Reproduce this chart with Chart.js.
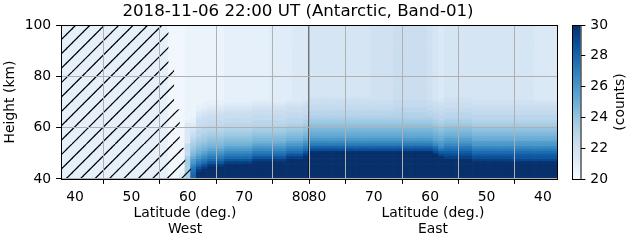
<!DOCTYPE html>
<html>
<head>
<meta charset="utf-8">
<script src="https://cdn.jsdelivr.net/npm/chart.js@4.4.1/dist/chart.umd.min.js"></script>
<style>
  html, body { margin: 0; padding: 0; background: #fff; }
  #wrap { position: relative; width: 631px; height: 243px; }
  #main { position: absolute; left: 0; top: 0; }
  #cbar { position: absolute; left: 560px; top: 0; }
</style>
</head>
<body>
<div id="wrap">
  <canvas id="main" width="596" height="243"></canvas>
  <canvas id="cbar" width="71" height="243"></canvas>
</div>

<script>
  // height bins (km), bottom edge of each 1 km row
  const heights = [
    40, 41, 42, 43, 44, 45, 46, 47, 48, 49, 50, 51, 52, 53, 54, 55, 56, 57, 58, 59,
    60, 61, 62, 63, 64, 65, 66, 67, 68, 69, 70, 71, 72, 73, 74, 75, 76, 77, 78, 79,
    80, 81, 82, 83, 84, 85, 86, 87, 88, 89, 90, 91, 92, 93, 94, 95, 96, 97, 98, 99
  ];

  // latitude of each column, in drawing order
  const westLat = [38, 39, 40, 41, 42, 43, 44, 45, 46, 47, 48, 49, 50, 51, 52, 53, 54, 55, 56, 57, 58, 59,
    60, 61, 62, 63, 64, 65, 66, 67, 68, 69, 70, 71, 72, 73, 74, 75, 76, 77, 78, 79, 80, 81];
  const eastLat = [81, 80, 79, 78, 77, 76, 75, 74, 73, 72, 71, 70, 69, 68, 67, 66, 65, 64, 63, 62, 61, 60,
    59, 58, 57, 56, 55, 54, 53, 52, 51, 50, 49, 48, 47, 46, 45, 44, 43, 42, 41, 40, 39, 38];

  // counts per column, one character per 1 km row from 40 km up;
  // the last character holds to 100 km. '0' = 20 counts ... 'z' = 30 counts
  const countCode = '0123456789abcdefghijklmnopqrstuvwxyz';
  const westCounts = [
    '3', '3', '3', '3', '3', '3', '3', '3', '3', '3',
    '3', '3', '3', '3', '3', '3', '3', '3', '3',
    '1', '1', '54321',
    'ccccccccc999995555555532',
    'ssrqpnlkigfedcba987654332',
    'zzzxurpnljhgfedcbaa99887654332',
    'zzzzxurpnljhgfedcbaa99887654332',
    'zzzzzxurpnljhgfedcbaa99887654332',
    'zzzzzxurpnljhgfedcbaa99887654332',
    'zzzzzxurpnljhgfedcbaa99887654332',
    'zzzzzzxurpnljhgfedcbaa998876543',
    'zzzzzzxurpnljhgfedcbaa998876543',
    'zzzzzzxurpnljhgfedcbaa998876543',
    'zzzzzzxurpnljhgfedcbaa998876543',
    'zzzzzzxurpnljhgfedcbaa998876543',
    'zzzzzzzxurpnljhgfedcbaa998876543',
    'zzzzzzzxurpnljhgfedcbaa998876543',
    'zzzzzzzxurpnljhgfedcbaa998876543',
    'zzzzzzzxurpnljhgfedcbaa99887654',
    'zzzzzzzxurpnljhgfedcbaa99887654',
    'zzzzzzzxurpnljhgfedcbaa99887654',
    'zzzzzzzzxurpnljhgfedcbaa99887654',
    'zzzzzzzzxurpnljhgfedcbaa9988765',
    'zzzzzzzzxurpnljhgfedcbaa9988765',
    'zzzzzzzzzxurpnljhgfedcbaa9988765'
  ];
  const eastCounts = [
    'zzzzzzzzzzzvspnljihgfedcbaa998876',
    'zzzzzzzzzzzvspnljihgfedcbaa998876',
    'zzzzzzzzzzzvspnljihgfedcbaa998876',
    'zzzzzzzzzzzvspnljihgfedcbaa998876',
    'zzzzzzzzzzzvspnljihgfedcbaa998876',
    'zzzzzzzzzzzvspnljihgfedcbaa998876',
    'zzzzzzzzzzzvspnljihgfedcbaa998876',
    'zzzzzzzzzzzvspnljihgfedcbaa998876',
    'zzzzzzzzzzzvspnljihgfedcbaa998876',
    'zzzzzzzzzzzvspnljihgfedcbaa998876',
    'zzzzzzzzzzzvspnljihgfedcbaa998876',
    'zzzzzzzzzzzvspnljihgfedcbaa99887',
    'zzzzzzzzzzzvspnljihgfedcbaa99887',
    'zzzzzzzzzzzvspnljihgfedcbaa99887',
    'zzzzzzzzzzzvspnljihgfedcbaa99887',
    'zzzzzzzzzzzvspnljihgfedcbbaa9998',
    'zzzzzzzzzzzvspnljihgfedcbbaa9998',
    'zzzzzzzzzzzvspnljihgfedcbbaa9998',
    'zzzzzzzzzzzvspnljihgfedcbbaa9998',
    'zzzzzzzzzzzvspnljihgfedcbbaa9998',
    'zzzzzzzzzzzvspnljihgfedcbbaa9998',
    'zzzzzzzzzzzvspnljihgfedcbaa99887',
    'zzzzzzzzzzwtqnljihgfedcbaa998876',
    'zzzzzzzzzwtqnlkihgfedcbaa9988765',
    'zzzzzzzzxvtrpnlkihgfedcbaa9988776',
    'zzzzzzzzxvtrpnlkihgfedcbaa9988776',
    'zzzzzzzzxvtrpnlkihgfedcbaa9988776',
    'zzzzzzzzxvtrpnlkihgfedcbaa9988776',
    'zzzzzzzzxvtrpnlkihgfedcbaa9988776',
    'zzzzzzzxvtrpnlkihgfedcbaa9988776',
    'zzzzzzzxvtrpnlkihgfedcbaa9988776',
    'zzzzzzzxvtrpnlkihgfedcbaa9988776',
    'zzzzzzzxvtrpnlkihgfedcbaa9988776',
    'zzzzzzzxvtrpnlkihgfedcbaa9988776',
    'zzzzzzzxvtrpnlkihgfedcbaa9988776',
    'zzzzzzzxvtrpnlkihgfedcbaa9988776',
    'zzzzzzzwutrpnlkihgfedcbaa9988776',
    'zzzzzzzwutrpnlkihgfedcbaa9988776',
    'zzzzzzzwutrpnlkihgfedcbaa9988776',
    'zzzzzzzwutrpnlkihgfedcbaa9988776',
    'zzzzzzzwutrpnlkihgfedcbaa9988765',
    'zzzzzzzwutrpnlkihgfedcbaa9988765',
    'zzzzzzzwutrpnlkihgfedcbaa9988765',
    'zzzzzzzwutrpnlkihgfedcbaa9988765'
  ];

  // hatched (no data) area on the west side: column latitude and top height
  const hatchLat = [38, 39, 40, 41, 42, 43, 44, 45, 46, 47, 48, 49, 50, 51, 52, 53, 54, 55, 56, 57, 58, 59, 60];
  const hatchTop = [100, 100, 100, 100, 100, 100, 100, 100, 100, 100, 100, 100, 100, 100, 100, 100, 100, 100, 100, 83, 67, 52, 44];

  const westTicks = [40, 50, 60, 70, 80];
  const eastTicks = [80, 70, 60, 50, 40];
  const sideNames = ['West', 'East'];
  const cbarTicks = [20, 22, 24, 26, 28, 30];

  // matplotlib "Blues"
  const blues = [[247, 251, 255], [222, 235, 247], [198, 219, 239], [158, 202, 225], [107, 174, 214],
    [66, 146, 198], [33, 113, 181], [8, 81, 156], [8, 48, 107]];
  const vmin = 20, vmax = 30;

  function blueColor(v) {
    let t = Math.min(Math.max((v - vmin) / (vmax - vmin), 0), 1) * 8;
    const i = Math.min(Math.floor(t), 7);
    const f = t - i;
    const c = blues[i].map((a, k) => Math.round(a + (blues[i + 1][k] - a) * f));
    return `rgb(${c[0]}, ${c[1]}, ${c[2]})`;
  }

  // x axis runs 37.5 -> 81.5 (west) then 81.5 -> 37.5 (east), 88 units
  const westPos = (lat) => lat - 37.5;
  const eastPos = (lat) => 88 - (lat - 37.5);

  const heatCells = [];
  const heatColors = [];
  function addColumn(pos, code) {
    const full = code.padEnd(heights.length, code[code.length - 1]);
    heights.forEach((h, r) => {
      const v = vmin + countCode.indexOf(full[r]) * (vmax - vmin) / 35;
      heatCells.push({ x: pos, y: [h, h + 1] });
      heatColors.push(blueColor(v));
    });
  }
  westLat.forEach((lat, i) => addColumn(westPos(lat), westCounts[i]));
  eastLat.forEach((lat, i) => addColumn(eastPos(lat), eastCounts[i]));

  const hatchCells = hatchLat.map((lat, i) => ({ x: westPos(lat), y: [40, hatchTop[i]] }));

  const xTickPos = westTicks.map(westPos).concat(eastTicks.map(eastPos));
  const xTickLabels = westTicks.concat(eastTicks).map(String);

  function makeHatch() {
    const c = document.createElement("canvas");
    c.width = 72;
    c.height = 72;
    const g = c.getContext("2d");
    g.strokeStyle = "#000";
    g.lineWidth = 1.2;
    for (let k = -6; k <= 12; k++) {
      const x0 = k * 14.4;
      g.beginPath();
      g.moveTo(x0, 72);
      g.lineTo(x0 + 72, 0);
      g.stroke();
    }
    return g.createPattern(c, "repeat");
  }

  Chart.defaults.font.family = "'DejaVu Sans', sans-serif";
  Chart.defaults.font.size = 13.9;
  Chart.defaults.color = "#000";

  const frameAndLabels = {
    id: "frameAndLabels",
    afterDraw(chart) {
      const { ctx, chartArea: a, scales } = chart;
      ctx.save();
      ctx.strokeStyle = "#000";
      ctx.lineWidth = 1;
      ctx.strokeRect(a.left + 0.5, a.top + 0.5, a.width, a.height);
      ctx.fillStyle = "#000";
      ctx.font = "13.9px 'DejaVu Sans'";
      ctx.textAlign = "center";
      ctx.textBaseline = "middle";
      sideNames.forEach((name, i) => {
        const px = scales.x.getPixelForValue(22 + i * 44);
        ctx.fillText("Latitude (deg.)", px, a.bottom + 34);
        ctx.fillText(name, px, a.bottom + 50.5);
      });
      ctx.restore();
    },
  };

  new Chart(document.getElementById("main"), {
    type: "bar",
    data: {
      datasets: [
        {
          type: "line",
          data: [{ x: 44, y: 40 }, { x: 44, y: 100 }],
          borderColor: "#000",
          borderWidth: 1,
          pointRadius: 0,
          order: 0,
        },
        {
          data: hatchCells,
          backgroundColor: makeHatch(),
          borderWidth: 0,
          grouped: false,
          barPercentage: 1,
          categoryPercentage: 1,
          order: 1,
        },
        {
          data: heatCells,
          backgroundColor: heatColors,
          borderWidth: 0,
          grouped: false,
          barPercentage: 1,
          categoryPercentage: 1,
          order: 2,
        },
      ],
    },
    options: {
      responsive: false,
      animation: false,
      events: [],
      layout: { padding: 0 },
      plugins: {
        legend: { display: false },
        tooltip: { enabled: false },
        title: {
          display: true,
          text: "2018-11-06 22:00 UT (Antarctic, Band-01)",
          color: "#000",
          font: { size: 16.67, weight: "normal" },
          padding: { top: 1.5, bottom: 3.5 },
        },
      },
      scales: {
        x: {
          type: "linear",
          min: 0,
          max: 88,
          offset: false,
          afterBuildTicks: (s) => {
            s.ticks = xTickPos.map((v) => ({ value: v }));
          },
          ticks: {
            autoSkip: false,
            maxRotation: 0,
            minRotation: 0,
            padding: 4.9,
            callback: (v, i) => xTickLabels[i],
          },
          grid: { z: 1, color: "#b0b0b0", lineWidth: 1, tickColor: "#000", tickLength: 4.9 },
          border: { display: false },
          afterFit: (s) => {
            s.height = 64;
          },
        },
        y: {
          min: 40,
          max: 100,
          ticks: { stepSize: 20, padding: 4.9 },
          grid: { z: 1, color: "#b0b0b0", lineWidth: 1, tickColor: "#000", tickLength: 4.9 },
          border: { display: false },
          title: { display: true, text: "Height (km)", padding: { top: 1.7, bottom: 0 } },
          afterFit: (s) => {
            s.width = 61;
          },
        },
        yPad: {
          type: "linear",
          position: "right",
          grid: { display: false },
          ticks: { display: false },
          border: { display: false },
          afterFit: (s) => {
            s.width = 39;
          },
        },
      },
    },
    plugins: [frameAndLabels],
  });

  // colour bar
  const cbarFrame = {
    id: "cbarFrame",
    afterDraw(chart) {
      const { ctx, chartArea: a } = chart;
      ctx.save();
      ctx.strokeStyle = "#000";
      ctx.lineWidth = 1;
      ctx.strokeRect(a.left + 0.5, a.top + 0.5, a.width, a.height);
      ctx.translate(60, (a.top + a.bottom) / 2);
      ctx.rotate(-Math.PI / 2);
      ctx.fillStyle = "#000";
      ctx.font = "13.9px 'DejaVu Sans'";
      ctx.textAlign = "center";
      ctx.textBaseline = "middle";
      ctx.fillText("(counts)", 0, 0);
      ctx.restore();
    },
  };

  new Chart(document.getElementById("cbar"), {
    type: "bar",
    data: {
      labels: [""],
      datasets: [
        {
          data: [[vmin, vmax]],
          backgroundColor: (c) => {
            const a = c.chart.chartArea;
            if (!a) return null;
            const g = c.chart.ctx.createLinearGradient(0, a.bottom, 0, a.top);
            blues.forEach((b, i) => g.addColorStop(i / 8, `rgb(${b[0]}, ${b[1]}, ${b[2]})`));
            return g;
          },
          borderWidth: 0,
          barPercentage: 1,
          categoryPercentage: 1,
        },
      ],
    },
    options: {
      responsive: false,
      animation: false,
      events: [],
      layout: { padding: { left: 12, top: 25, bottom: 64, right: 0 } },
      plugins: { legend: { display: false }, tooltip: { enabled: false } },
      scales: {
        x: { display: false },
        y: {
          position: "right",
          min: vmin,
          max: vmax,
          afterBuildTicks: (s) => {
            s.ticks = cbarTicks.map((v) => ({ value: v }));
          },
          ticks: { padding: 4.9 },
          grid: { drawOnChartArea: false, tickColor: "#000", tickLength: 4.9 },
          border: { display: false },
          afterFit: (s) => {
            s.width = 50.5;
          },
        },
      },
    },
    plugins: [cbarFrame],
  });
</script>
</body>
</html>
